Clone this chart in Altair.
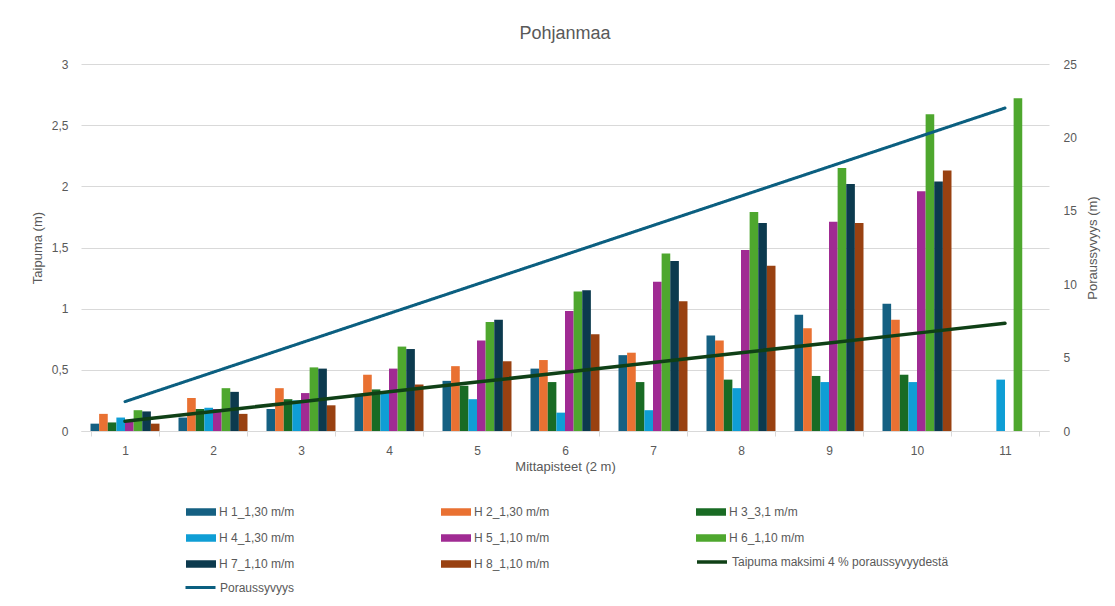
import altair as alt
import pandas as pd

# Measurement points along the borehole (every 2 m)
points = ["1", "2", "3", "4", "5", "6", "7", "8", "9", "10", "11"]

# Deflection per hole (m); None where the hole was not measured
series_names = [
    "H 1_1,30 m/m", "H 2_1,30 m/m", "H 3_3,1 m/m", "H 4_1,30 m/m",
    "H 5_1,10 m/m", "H 6_1,10 m/m", "H 7_1,10 m/m", "H 8_1,10 m/m",
]
h1 = [0.06, 0.11, 0.18, 0.29, 0.41, 0.51, 0.62, 0.78, 0.95, 1.04, None]
h2 = [0.14, 0.27, 0.35, 0.46, 0.53, 0.58, 0.64, 0.74, 0.84, 0.91, None]
h3 = [0.07, 0.18, 0.26, 0.34, 0.37, 0.40, 0.40, 0.42, 0.45, 0.46, None]
h4 = [0.11, 0.19, 0.25, 0.31, 0.26, 0.15, 0.17, 0.35, 0.40, 0.40, 0.42]
h5 = [0.09, 0.18, 0.31, 0.51, 0.74, 0.98, 1.22, 1.48, 1.71, 1.96, None]
h6 = [0.17, 0.35, 0.52, 0.69, 0.89, 1.14, 1.45, 1.79, 2.15, 2.59, 2.72]
h7 = [0.16, 0.32, 0.51, 0.67, 0.91, 1.15, 1.39, 1.70, 2.02, 2.04, None]
h8 = [0.06, 0.14, 0.21, 0.38, 0.57, 0.79, 1.06, 1.35, 1.70, 2.13, None]
series_values = [h1, h2, h3, h4, h5, h6, h7, h8]

# Maximum allowed deflection (4 % of depth) and drilling depth
max_label = "Taipuma maksimi 4 % poraussyvyydestä"
max_deflection = [0.08, 0.16, 0.24, 0.32, 0.40, 0.48, 0.56, 0.64, 0.72, 0.80, 0.88]
depth_label = "Poraussyvyys"
depth = [2, 4, 6, 8, 10, 12, 14, 16, 18, 20, 22]

bar_colors = ["#156082", "#E97132", "#196B24", "#0F9ED5",
              "#A02B93", "#4EA72E", "#0C3A4E", "#994111"]
max_color = "#0F4016"
depth_color = "#0B5F80"

font = "Liberation Sans"
text_grey = "#595959"
grid_grey = "#d9d9d9"

rows = []
for name, vals in zip(series_names, series_values):
    for p, v in zip(points, vals):
        if v is not None:
            rows.append({"point": p, "series": name, "value": v})
bars_df = pd.DataFrame(rows)
max_df = pd.DataFrame({"point": points, "value": max_deflection, "series": max_label})
depth_df = pd.DataFrame({"point": points, "value": depth, "series": depth_label})

x_enc = alt.X(
    "point:N", sort=points,
    scale=alt.Scale(paddingInner=0.216, paddingOuter=0.108),
    axis=alt.Axis(
        title="Mittapisteet (2 m)", labelAngle=0, tickBand="extent",
        tickSize=5, tickColor=grid_grey, domainColor=grid_grey,
        labelPadding=9, titlePadding=4,
    ),
)

left_axis = alt.Axis(
    title="Taipuma (m)", values=[0, 0.5, 1, 1.5, 2, 2.5, 3],
    labelExpr="replace(format(datum.value, '~g'), '.', ',')",
    grid=True, gridColor=grid_grey, domain=False, ticks=False,
    labelPadding=13, titlePadding=7,
)
left_scale = alt.Scale(domain=[0, 3], nice=False)

bar_path = "M-1,-0.25H1V0.25H-1Z"

bars = alt.Chart(bars_df).mark_bar().encode(
    x=x_enc,
    xOffset=alt.XOffset("series:N", sort=series_names, scale=alt.Scale(paddingInner=0, paddingOuter=0)),
    y=alt.Y("value:Q", scale=left_scale, axis=left_axis),
    fill=alt.Fill(
        "series:N", sort=series_names,
        scale=alt.Scale(domain=series_names, range=bar_colors),
        legend=alt.Legend(
            title=None, orient="none", legendX=105, legendY=433, columns=3,
            direction="horizontal", columnPadding=146, rowPadding=5,
            symbolType=bar_path, symbolSize=900, symbolStrokeWidth=0,
            labelOffset=3, padding=0,
        ),
    ),
)

max_line = alt.Chart(max_df).mark_line(strokeWidth=3.5, strokeCap="round").encode(
    x=alt.X("point:N", sort=points),
    y=alt.Y("value:Q", scale=left_scale, axis=left_axis),
    stroke=alt.Stroke(
        "series:N",
        scale=alt.Scale(domain=[max_label], range=[max_color]),
        legend=alt.Legend(
            title=None, orient="none", legendX=614, legendY=481,
            symbolType="stroke", symbolSize=900, symbolStrokeWidth=3.5,
            labelOffset=3, labelLimit=300, padding=0,
        ),
    ),
)

depth_line = alt.Chart(depth_df).mark_line(strokeWidth=3, strokeCap="round", color=depth_color).encode(
    x=alt.X("point:N", sort=points),
    y=alt.Y(
        "value:Q", scale=alt.Scale(domain=[0, 25], nice=False),
        axis=alt.Axis(
            title="Poraussyvyys (m)", orient="right", values=[0, 5, 10, 15, 20, 25],
            grid=False, domain=False, ticks=False, labelPadding=14,
            titlePadding=10, titleAngle=270, titleBaseline="top",
        ),
    ),
    strokeDash=alt.StrokeDash(
        "series:N",
        scale=alt.Scale(domain=[depth_label], range=[[1, 0]]),
        legend=alt.Legend(
            title=None, orient="none", legendX=103, legendY=507,
            symbolType="stroke", symbolSize=900, symbolStrokeWidth=3,
            symbolStrokeColor=depth_color, labelOffset=3, padding=0,
        ),
    ),
)

chart = (
    alt.layer(alt.layer(bars, max_line), depth_line)
    .resolve_scale(y="independent")
    .properties(
        width=968, height=367,
        autosize=alt.AutoSizeParams(type="none"),
        padding={"left": 81, "top": 64, "right": 66, "bottom": 175},
        title=alt.Title("Pohjanmaa", fontSize=18, fontWeight="normal",
                        color=text_grey, font=font, anchor="middle", offset=15),
    )
    .configure_view(stroke=None)
    .configure_axis(
        labelFont=font, titleFont=font, labelFontSize=12, titleFontSize=13,
        labelColor=text_grey, titleColor=text_grey, titleFontWeight="normal",
    )
    .configure_legend(labelFont=font, labelFontSize=12, labelColor=text_grey)
)

chart.save("out.html", embed_options={"renderer": "svg", "actions": False})
